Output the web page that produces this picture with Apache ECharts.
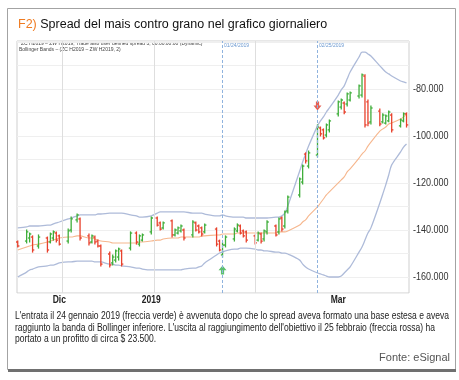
<!DOCTYPE html>
<html><head><meta charset="utf-8">
<script src="https://cdn.jsdelivr.net/npm/echarts@6/dist/echarts.min.js"></script>
<style>html,body{margin:0;padding:0;background:#fff;}#c{width:459px;height:380px;}</style>
</head><body><div id="c"></div>
<script>
// ---- data ----
const dates = ['2018-11-16','2018-11-19','2018-11-20','2018-11-21','2018-11-23','2018-11-26','2018-11-27','2018-11-28','2018-11-29','2018-11-30',
'2018-12-03','2018-12-04','2018-12-06','2018-12-07','2018-12-10','2018-12-11','2018-12-12','2018-12-13','2018-12-14','2018-12-17','2018-12-18','2018-12-19','2018-12-20','2018-12-21','2018-12-24','2018-12-26','2018-12-27','2018-12-28','2018-12-31',
'2019-01-02','2019-01-03','2019-01-04','2019-01-07','2019-01-08','2019-01-09','2019-01-10','2019-01-11','2019-01-14','2019-01-15','2019-01-16','2019-01-17','2019-01-18','2019-01-22','2019-01-23','2019-01-24','2019-01-25','2019-01-28','2019-01-29','2019-01-30','2019-01-31',
'2019-02-01','2019-02-04','2019-02-05','2019-02-06','2019-02-07','2019-02-08','2019-02-11','2019-02-12','2019-02-13','2019-02-14','2019-02-15','2019-02-19','2019-02-20','2019-02-21','2019-02-22','2019-02-25','2019-02-26','2019-02-27','2019-02-28',
'2019-03-01','2019-03-04','2019-03-05','2019-03-06','2019-03-07','2019-03-08','2019-03-11','2019-03-12','2019-03-13','2019-03-14','2019-03-15','2019-03-18','2019-03-19','2019-03-20','2019-03-21','2019-03-22','2019-03-25','2019-03-26','2019-03-27'];

const openV = [-145100,-144700,-143400,-143000,-146800,-143400,-145100,-143400,-141300,-142500,
-144700,-140000,-135700,-135300,-142500,-145100,-143000,-144700,-146800,-150200,-154000,-152800,-151500,-148900,-147700,-141300,-146000,-144300,-140800,
-134900,-137000,-139100,-136100,-142100,-141300,-140400,-140000,-142100,-137000,-138300,-139100,-140800,-139600,-144700,-150600,-146400,-143800,-140400,-138300,-140400,
-140800,-142500,-144300,-141700,-143800,-140800,-138300,-140800,-134900,-138300,-131900,-125100,-119600,-107700,-112800,-108100,-96600,-97400,-99600,
-97400,-90600,-87700,-86000,-86400,-84700,-83000,-82600,-74500,-85500,-94000,-89400,-94000,-94500,-93600,-91100,-95700,-93600,-90600];

const highV = [-144700,-140000,-141300,-142500,-142100,-143000,-141300,-140400,-140800,-142100,
-139600,-134500,-133200,-134900,-141700,-142100,-142500,-144300,-146400,-149400,-150600,-148500,-147700,-148500,-140800,-140800,-142100,-141700,-134500,
-134500,-136600,-136600,-135700,-139600,-138700,-137900,-139600,-136100,-136600,-137900,-138700,-137400,-139100,-144300,-145500,-142500,-139100,-137400,-137900,-140000,
-140400,-142100,-140800,-141300,-140000,-136100,-137900,-134900,-134500,-131900,-125500,-117900,-112300,-107200,-106400,-95300,-96200,-97000,-94900,
-93200,-85100,-84300,-85500,-81700,-81300,-78300,-73600,-74000,-84700,-87200,-88500,-90600,-91100,-89400,-90600,-92800,-90200,-90200];

const lowV = [-147200,-145500,-145100,-149400,-147700,-149400,-145500,-144300,-145100,-146400,
-145500,-140800,-136600,-144300,-146400,-145500,-146000,-147200,-155300,-155700,-154900,-153600,-152800,-155300,-148500,-146000,-146800,-144700,-141700,
-138300,-140000,-139600,-143000,-142500,-141700,-140800,-144300,-143000,-140400,-141300,-142500,-141300,-146800,-148900,-151500,-147200,-144700,-140800,-141700,-143000,
-145100,-146000,-144700,-145500,-144700,-141700,-142500,-141700,-140400,-139100,-132800,-126000,-120400,-111500,-113600,-108900,-100000,-101300,-100400,
-98300,-91500,-88500,-90600,-87200,-85100,-83800,-83400,-96200,-95700,-94900,-95700,-94500,-94900,-94000,-98300,-96200,-94000,-96200];

const closeV = [-146800,-140800,-141700,-148500,-143000,-148500,-141700,-140800,-144300,-146000,
-140400,-135300,-133600,-143400,-145500,-142500,-145100,-146800,-154500,-154900,-151500,-148900,-148100,-154500,-141300,-145100,-142500,-142100,-134900,
-137900,-139600,-137000,-142100,-140000,-139100,-138300,-143400,-136600,-140000,-140800,-141700,-137900,-146000,-148500,-146400,-143000,-139600,-137900,-141300,-142500,
-144300,-145500,-141300,-144700,-140400,-136600,-142100,-135300,-139600,-132300,-126000,-118300,-112800,-110600,-107200,-96200,-99100,-100800,-95300,
-93600,-85500,-84700,-89800,-82100,-81700,-78700,-74000,-95300,-94500,-88100,-94900,-91100,-91500,-89800,-97400,-93200,-90600,-95300];

const bbUpper = [-139100,-138700,-138300,-138300,-138300,-137900,-137900,-137400,-137000,-136600,
-135300,-134900,-134000,-133600,-133600,-133600,-133600,-133200,-133200,-132800,-132800,-132800,-132800,-132800,-133600,-134000,-134500,-134500,-134000,
-132800,-132300,-132300,-132300,-132300,-132300,-132300,-132300,-132800,-132800,-132800,-132800,-133200,-134000,-134000,-133600,-134000,-134500,-134500,-134500,-134500,
-134900,-134900,-134900,-134900,-134900,-134900,-134500,-134500,-134000,-132800,-129800,-114900,-111100,-107700,-104300,-95700,-93600,-91900,-89800,
-88100,-82600,-80400,-78700,-75700,-72800,-66400,-64300,-64300,-65100,-66000,-70200,-71500,-72800,-73600,-74500,-76600,-77000,-77400];

const bbMiddle = [-148500,-147200,-146800,-146400,-146000,-145100,-144700,-144300,-143800,-143400,
-143000,-143000,-142500,-142500,-143400,-143400,-143800,-144300,-144700,-145100,-145500,-145500,-145500,-145500,-145500,-145500,-145100,-145100,-144700,
-144300,-144300,-143800,-143400,-143400,-143400,-143000,-143000,-143000,-143000,-143000,-142500,-142500,-142100,-142100,-141700,-141700,-141700,-141300,-141300,-141300,
-141300,-141300,-141300,-141300,-141300,-141300,-141300,-140800,-140800,-140800,-140400,-137900,-136600,-135700,-134000,-130200,-128500,-126800,-125100,
-123800,-120000,-118700,-117400,-115300,-114000,-109400,-107700,-106400,-104300,-102600,-97900,-97000,-96200,-94900,-94500,-92800,-91900,-90600];

const bbLower = [-160000,-157900,-157000,-156600,-155700,-155300,-154900,-154900,-154500,-154000,
-153600,-153600,-153200,-153200,-153200,-153200,-153600,-153600,-153600,-154500,-154500,-154900,-154900,-155300,-155700,-156200,-156200,-156600,-157000,
-157000,-157000,-157000,-157000,-157000,-157000,-157000,-156600,-156200,-156200,-155700,-155300,-154000,-150600,-149800,-149400,-148900,-148100,-148100,-147700,-147700,
-147700,-148100,-148500,-148500,-148900,-148900,-149400,-149400,-149800,-149800,-150200,-152800,-154500,-155700,-156600,-158300,-158700,-159100,-159600,
-160000,-160000,-159600,-158300,-157000,-155700,-149400,-147200,-144300,-141300,-139100,-128500,-124700,-120800,-116600,-112300,-106800,-104700,-103400];

const yTickValues = [-80000, -100000, -120000, -140000, -160000];
const xTickDates = ['2018-11-30','2018-12-31','2019-03-04'];
const xTickLabels = ['Dic','2019','Mar'];
const gridDates = ['2018-12-01','2019-01-01','2019-02-04'];
const signalDates = ['2019-01-24','2019-02-25'];
const signalTexts = ['01/24/2019','02/25/2019'];
const entryPoint = ['2019-01-24', -157000];
const exitPoint = ['2019-02-25', -87200];
const axisStart = '2018-11-15T18:00:00';
const axisEnd = '2019-03-27T20:00:00';
const yMin = -166800, yMax = -59600;

// ---- helpers ----
const ts = s => +new Date(s.length === 10 ? s + 'T00:00:00' : s);
const fmtIt = v => (v < 0 ? '-' : '') + String(Math.abs(v)).replace(/\B(?=(\d{3})+(?!\d))/g, '.');
const GREEN = '#3fae3a', RED = '#e8412c';
const SANS = '"Liberation Sans", Arial, sans-serif';
const mctx = document.createElement('canvas').getContext('2d');
const measure = (text, font) => { mctx.font = font; return mctx.measureText(text).width; };

const ohlc = dates.map((d, i) => [ts(d), openV[i], highV[i], lowV[i], closeV[i]]);

function renderOHLC(params, api) {
  const x = api.value(0);
  const o = api.coord([x, api.value(1)]);
  const h = api.coord([x, api.value(2)]);
  const l = api.coord([x, api.value(3)]);
  const c = api.coord([x, api.value(4)]);
  const col = api.value(4) >= api.value(1) ? GREEN : RED;
  const st = { stroke: col, lineWidth: 1.3, fill: null };
  const w = 1.7;
  return { type: 'group', children: [
    { type: 'line', shape: { x1: h[0], y1: h[1] - 0.5, x2: l[0], y2: l[1] + 0.5 }, style: st },
    { type: 'line', shape: { x1: o[0] - w, y1: o[1], x2: o[0], y2: o[1] }, style: st },
    { type: 'line', shape: { x1: c[0], y1: c[1], x2: c[0] + w, y2: c[1] }, style: st }
  ]};
}

const chart = echarts.init(document.getElementById('c'), null, { renderer: 'canvas' });

const markLines = gridDates.map(d => ({ xAxis: ts(d), lineStyle: { color: '#dedede', type: 'solid', width: 1 } }))
  .concat(signalDates.map(d => ({ xAxis: ts(d), lineStyle: { color: '#8fb3de', type: [3, 2], width: 1 } })));

const captionLines = [
  "L'entrata il 24 gennaio 2019 (freccia verde) è avvenuta dopo che lo spread aveva formato una base estesa e aveva",
  "raggiunto la banda di Bollinger inferiore. L'uscita al raggiungimento dell'obiettivo il 25 febbraio (freccia rossa) ha",
  "portato a un profitto di circa $ 23.500."
];
const CAP_FONT = '10.5px ' + SANS;
const capScale = 434 / measure(captionLines[0], CAP_FONT);

const baseGraphic = [
  { type: 'rect', z: -10, shape: { x: 7.5, y: 8.5, width: 448, height: 361 }, style: { fill: '#fff', stroke: '#a3a3a3', lineWidth: 1 } },
  { type: 'rect', z: -9, shape: { x: 8, y: 369, width: 448, height: 3 }, style: { fill: '#707070' } },
  { type: 'text', left: 19, top: 41.5, style: { text: '*ZC H2019 – ZW H2019, Trade also user defined spread 3, 00:00:00:00 (Dynamic)', font: '5px ' + SANS, fill: '#444' } },
  { type: 'text', left: 19, top: 47, style: { text: 'Bollinger Bands – (ZC H2019 – ZW H2019, 2)', font: '5px ' + SANS, fill: '#444' } },
  { type: 'text', x: 15, y: 311, scaleX: capScale, style: { text: captionLines[0], font: CAP_FONT, fill: '#222' } },
  { type: 'text', x: 15, y: 322.5, scaleX: capScale, style: { text: captionLines[1], font: CAP_FONT, fill: '#222' } },
  { type: 'text', x: 15, y: 334, scaleX: capScale, style: { text: captionLines[2], font: CAP_FONT, fill: '#222' } },
  { type: 'text', right: 9, top: 352, style: { text: 'Fonte: eSignal', font: '11px ' + SANS, fill: '#555' } }
];

const option = {
  animation: false,
  backgroundColor: '#fff',
  title: {
    text: '{a|F2)} Spread del mais contro grano nel grafico giornaliero',
    left: 13, top: 13,
    textStyle: { fontSize: 12.5, fontWeight: 'normal', color: '#111', fontFamily: SANS,
      rich: { a: { color: '#ef7b22', fontSize: 12.5, fontFamily: SANS } } }
  },
  grid: { left: 17, right: 50, top: 41, bottom: 87, show: true, borderColor: '#cfcfcf', borderWidth: 1, backgroundColor: '#fff' },
  xAxis: {
    type: 'time', min: ts(axisStart), max: ts(axisEnd),
    axisLine: { show: false }, axisTick: { show: false }, splitLine: { show: false },
    axisLabel: { show: false }
  },
  yAxis: {
    type: 'value', position: 'right', min: yMin, max: yMax,
    minInterval: 10000, maxInterval: 10000, splitNumber: 11,
    axisLine: { show: false }, axisTick: { show: false },
    splitLine: { show: true, lineStyle: { color: '#efefef', width: 1 } },
    axisLabel: { show: false }
  },
  series: [
    { type: 'line', name: 'upper', data: dates.map((d, i) => [ts(d), bbUpper[i]]), showSymbol: false, smooth: 0.3,
      lineStyle: { color: '#aebbd9', width: 1.3 }, z: 1, silent: true,
      markLine: { silent: true, symbol: 'none', label: { show: false }, data: markLines } },
    { type: 'line', name: 'middle', data: dates.map((d, i) => [ts(d), bbMiddle[i]]), showSymbol: false, smooth: 0.3,
      lineStyle: { color: '#f6b78e', width: 1.1 }, z: 1, silent: true },
    { type: 'line', name: 'lower', data: dates.map((d, i) => [ts(d), bbLower[i]]), showSymbol: false, smooth: 0.3,
      lineStyle: { color: '#aebbd9', width: 1.3 }, z: 1, silent: true },
    { type: 'custom', name: 'spread', data: ohlc, renderItem: renderOHLC, encode: { x: 0, y: [1, 2, 3, 4] }, z: 3, silent: true },
    { type: 'scatter', name: 'entry', data: [[ts(entryPoint[0]), entryPoint[1]]], z: 4, silent: true,
      symbol: 'path://M5,0 L10,6 L7,6 L7,11 L3,11 L3,6 L0,6 Z', symbolSize: [8, 9], itemStyle: { color: '#34b04a' } },
    { type: 'scatter', name: 'exit', data: [[ts(exitPoint[0]), exitPoint[1]]], z: 4, silent: true,
      symbol: 'path://M3,0 L7,0 L7,5 L10,5 L5,11 L0,5 L3,5 Z', symbolSize: [8, 9], itemStyle: { color: '#e0392b' } }
  ],
  graphic: baseGraphic
};
chart.setOption(option);

// labels placed through the chart's own scales
const extra = [];
const rightEdge = chart.convertToPixel({ gridIndex: 0 }, [ts(axisEnd), yMin])[0];
const Y_FONT = '11px ' + SANS;
yTickValues.forEach(v => {
  const py = chart.convertToPixel({ yAxisIndex: 0 }, v);
  extra.push({ type: 'text', x: rightEdge + 4, y: py, scaleX: 0.82, z: 10,
    style: { text: fmtIt(v), font: Y_FONT, fill: '#333', verticalAlign: 'middle' } });
});
signalDates.forEach((d, i) => {
  const p = chart.convertToPixel({ gridIndex: 0 }, [ts(d), yMax]);
  extra.push({ type: 'text', x: p[0] + 1.5, y: p[1] + 2, z: 10, style: { text: signalTexts[i], font: '5px ' + SANS, fill: '#6a98d0' } });
});
const X_FONT = 'bold 11.5px ' + SANS;
xTickDates.forEach((d, i) => {
  const p = chart.convertToPixel({ gridIndex: 0 }, [ts(d), yMin]);
  const w = measure(xTickLabels[i], X_FONT) * 0.74;
  extra.push({ type: 'text', x: p[0] - w / 2, y: p[1] + 1, scaleX: 0.74, z: 10,
    style: { text: xTickLabels[i], font: X_FONT, fill: '#222', verticalAlign: 'top' } });
});
chart.setOption({ graphic: baseGraphic.concat(extra) });
</script></body></html>
